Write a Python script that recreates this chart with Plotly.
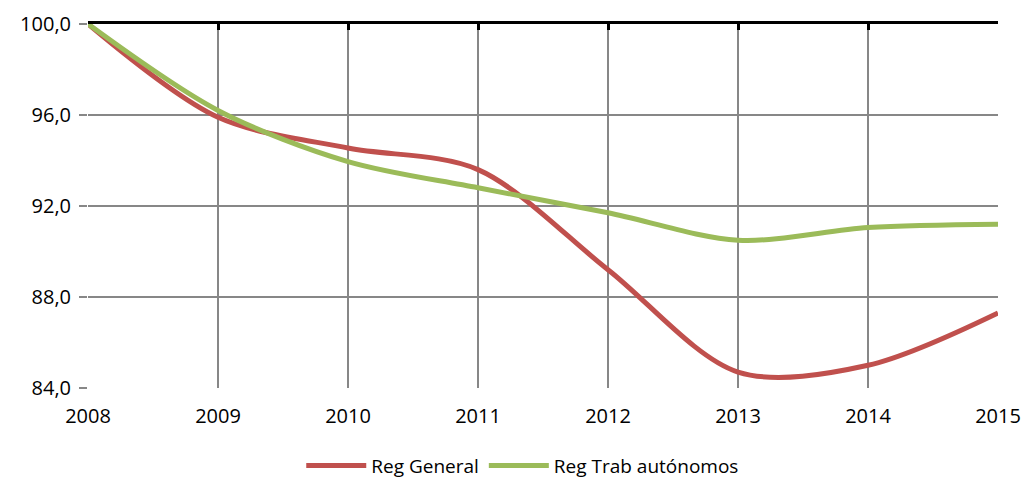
import plotly.graph_objects as go

years = [2008, 2009, 2010, 2011, 2012, 2013, 2014, 2015]
reg_general = [100.0, 95.9, 94.55, 93.6, 89.2, 84.7, 85.0, 87.3]
reg_autonomos = [100.0, 96.2, 93.95, 92.8, 91.7, 90.5, 91.05, 91.2]
y_ticks = [84, 88, 92, 96, 100]

FONT = "Open Sans"
GRID = "#878787"

fig = go.Figure()
fig.add_trace(go.Scatter(x=years, y=reg_general, name="Reg General", mode="lines",
                         line=dict(color="#C0504D", width=5, shape="spline", smoothing=0.9)))
fig.add_trace(go.Scatter(x=years, y=reg_autonomos, name="Reg Trab autónomos", mode="lines",
                         line=dict(color="#9BBB59", width=5, shape="spline", smoothing=0.9)))

fig.update_layout(
    width=1025, height=480,
    margin=dict(l=88, r=27, t=24, b=92, autoexpand=False),
    paper_bgcolor="white", plot_bgcolor="white",
    separators=",.",
    font=dict(family=FONT, size=20, color="black"),
    showlegend=True,
    legend=dict(orientation="h", xref="container", yref="container",
                x=0.51, xanchor="center", y=0.03, yanchor="middle",
                font=dict(family=FONT, size=19, color="black"), itemwidth=60),
    xaxis=dict(range=[2008, 2015], tickvals=years, ticktext=[str(y) for y in years],
               tickfont=dict(family=FONT, size=20, color="black"),
               showgrid=True, gridcolor=GRID, gridwidth=1.5, zeroline=False,
               showline=False, ticks="", ticklabelstandoff=14, automargin=False),
    xaxis2=dict(range=[2008, 2015], overlaying="x", side="top", tickvals=years,
                showticklabels=False, showgrid=False, zeroline=False,
                showline=True, linecolor="black", linewidth=3, automargin=False,
                ticks="inside", ticklen=6, tickwidth=3, tickcolor="black"),
    yaxis=dict(range=[84, 100], tickvals=y_ticks, tickformat=".1f",
               tickfont=dict(family=FONT, size=20, color="black"),
               showgrid=True, gridcolor=GRID, gridwidth=1.5, zeroline=False,
               showline=False, ticks="outside", ticklen=8, tickcolor=GRID, tickwidth=1.5,
               ticklabelstandoff=4, automargin=False),
)
fig.add_trace(go.Scatter(x=[2008, 2015], y=[None, None], xaxis="x2", showlegend=False,
                         hoverinfo="skip", mode="lines"))

fig.write_html("out.html", config={"displayModeBar": False},
               post_script="document.body.style.margin='0';document.body.style.overflow='hidden';")
